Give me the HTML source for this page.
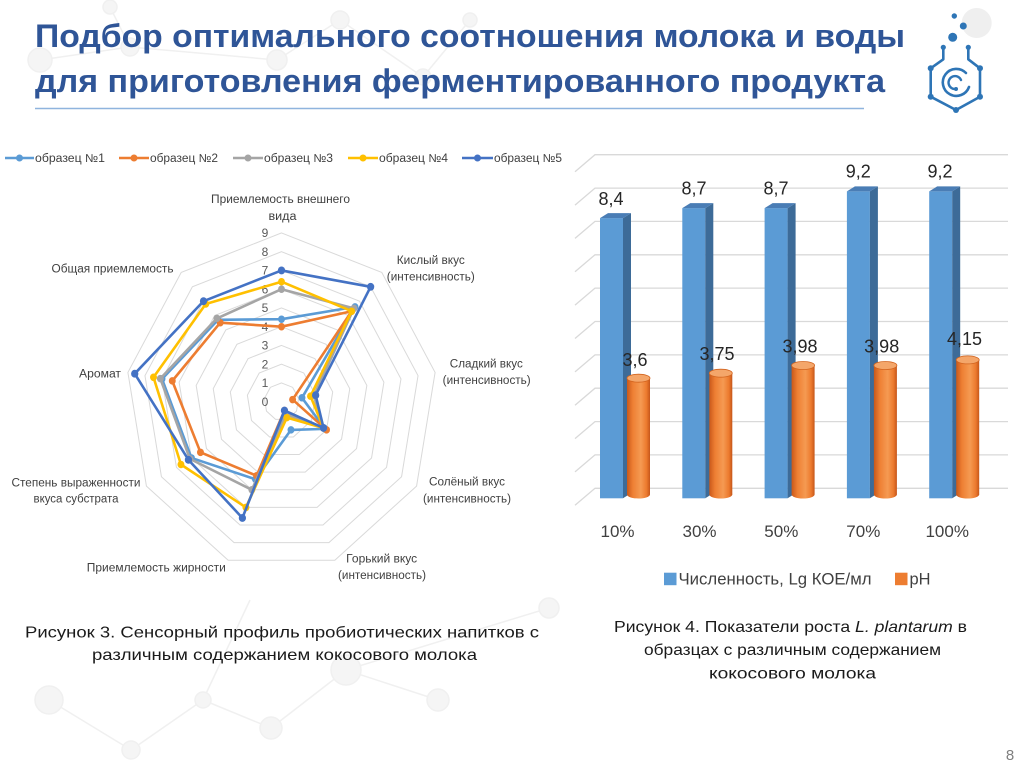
<!DOCTYPE html>
<html><head><meta charset="utf-8"><style>
html,body{margin:0;padding:0;background:#fff;}
svg{display:block;}
text{font-family:"Liberation Sans","DejaVu Sans",sans-serif;}
</style></head><body>
<svg width="1024" height="767" viewBox="0 0 1024 767" xmlns="http://www.w3.org/2000/svg">
<rect width="1024" height="767" fill="#fff"/>
<!-- faint background network -->
<g fill="#f5f5f5" stroke="#f0f0f0" stroke-width="1.5">
<line x1="40" y1="60" x2="130" y2="47"/><line x1="130" y1="47" x2="110" y2="7"/><line x1="130" y1="47" x2="277" y2="60"/><line x1="277" y1="60" x2="340" y2="20"/><line x1="340" y1="20" x2="423" y2="77"/><line x1="423" y1="77" x2="470" y2="20"/>
<line x1="49" y1="700" x2="131" y2="750"/><line x1="131" y1="750" x2="203" y2="700"/><line x1="203" y1="700" x2="271" y2="728"/><line x1="271" y1="728" x2="346" y2="670"/><line x1="346" y1="670" x2="438" y2="700"/><line x1="346" y1="670" x2="549" y2="608"/><line x1="203" y1="700" x2="250" y2="600"/>
<circle cx="40" cy="60" r="12"/><circle cx="130" cy="47" r="9"/><circle cx="110" cy="7" r="7"/><circle cx="277" cy="60" r="10"/><circle cx="340" cy="20" r="9"/><circle cx="423" cy="77" r="8"/><circle cx="470" cy="20" r="7"/>
<circle cx="49" cy="700" r="14"/><circle cx="203" cy="700" r="8"/><circle cx="271" cy="728" r="11"/><circle cx="346" cy="670" r="15"/><circle cx="438" cy="700" r="11"/><circle cx="131" cy="750" r="9"/><circle cx="549" cy="608" r="10"/>
<circle cx="976.7" cy="23" r="15" stroke="none" fill="#efefef"/>
</g>

<!-- Title -->
<text x="35" y="47" font-size="32" font-weight="bold" fill="#2F5597" textLength="870" lengthAdjust="spacingAndGlyphs">Подбор оптимального соотношения молока и воды</text>
<text x="35" y="92" font-size="32" font-weight="bold" fill="#2F5597" textLength="850" lengthAdjust="spacingAndGlyphs">для приготовления ферментированного продукта</text>
<line x1="35" y1="108.5" x2="864" y2="108.5" stroke="#8FB4DE" stroke-width="1.5"/>

<!-- Logo -->
<g fill="#2E75B6" stroke="#2E75B6">
<circle cx="954.3" cy="16" r="2.7" stroke="none"/><circle cx="963.3" cy="26" r="3.5" stroke="none"/><circle cx="952.7" cy="37.3" r="4.5" stroke="none"/>
<path d="M943.3,47.3 V59.3 L930.7,68.3 V96.7 L956,110 L980,96.7 V68.3 L968.3,59.3 V47.3" fill="none" stroke-width="2.6" stroke-linejoin="round"/>
<circle cx="943.3" cy="47.3" r="2.6" stroke="none"/><circle cx="968.3" cy="47.3" r="2.6" stroke="none"/>
<circle cx="930.7" cy="68.3" r="3" stroke="none"/><circle cx="930.7" cy="96.7" r="3" stroke="none"/><circle cx="956" cy="110" r="3" stroke="none"/><circle cx="980" cy="96.7" r="3" stroke="none"/><circle cx="980" cy="68.3" r="3" stroke="none"/>
<path d="M966,73 A13.5,13.5 0 1,0 969,87" fill="none" stroke-width="2.6" stroke-linecap="round"/>
<path d="M961,80 A6.5,6.5 0 1,0 956,89" fill="none" stroke-width="2.4" stroke-linecap="round"/>
<circle cx="956" cy="89" r="2" stroke="none"/>
</g>

<!-- Radar legend -->
<g stroke-width="2.6">
<line x1="5" y1="158" x2="34" y2="158" stroke="#5B9BD5"/><circle cx="19.5" cy="158" r="3.5" fill="#5B9BD5" stroke="none"/>
<line x1="119" y1="158" x2="149" y2="158" stroke="#ED7D31"/><circle cx="134" cy="158" r="3.5" fill="#ED7D31" stroke="none"/>
<line x1="233" y1="158" x2="263" y2="158" stroke="#A5A5A5"/><circle cx="248" cy="158" r="3.5" fill="#A5A5A5" stroke="none"/>
<line x1="348" y1="158" x2="378" y2="158" stroke="#FFC000"/><circle cx="363" cy="158" r="3.5" fill="#FFC000" stroke="none"/>
<line x1="462" y1="158" x2="493" y2="158" stroke="#4472C4"/><circle cx="477.5" cy="158" r="3.5" fill="#4472C4" stroke="none"/>
</g>
<g font-size="11.5" fill="#404040">
<text x="35" y="162" textLength="70" lengthAdjust="spacingAndGlyphs">образец №1</text>
<text x="150" y="162" textLength="68" lengthAdjust="spacingAndGlyphs">образец №2</text>
<text x="264" y="162" textLength="69" lengthAdjust="spacingAndGlyphs">образец №3</text>
<text x="379" y="162" textLength="69" lengthAdjust="spacingAndGlyphs">образец №4</text>
<text x="494" y="162" textLength="68" lengthAdjust="spacingAndGlyphs">образец №5</text>
</g>

<!-- Radar grid -->
<g fill="none" stroke="#D9D9D9" stroke-width="1">
<polygon vector-effect="non-scaling-stroke" transform="translate(281.5,401.7) scale(17.33,18.75)" points="0,-1 0.6428,-0.766 0.9848,-0.1736 0.866,0.5 0.342,0.9397 -0.342,0.9397 -0.866,0.5 -0.9848,-0.1736 -0.6428,-0.766"/>
<polygon vector-effect="non-scaling-stroke" transform="translate(281.5,401.7) scale(34.66,37.5)" points="0,-1 0.6428,-0.766 0.9848,-0.1736 0.866,0.5 0.342,0.9397 -0.342,0.9397 -0.866,0.5 -0.9848,-0.1736 -0.6428,-0.766"/>
<polygon vector-effect="non-scaling-stroke" transform="translate(281.5,401.7) scale(51.99,56.25)" points="0,-1 0.6428,-0.766 0.9848,-0.1736 0.866,0.5 0.342,0.9397 -0.342,0.9397 -0.866,0.5 -0.9848,-0.1736 -0.6428,-0.766"/>
<polygon vector-effect="non-scaling-stroke" transform="translate(281.5,401.7) scale(69.32,75)" points="0,-1 0.6428,-0.766 0.9848,-0.1736 0.866,0.5 0.342,0.9397 -0.342,0.9397 -0.866,0.5 -0.9848,-0.1736 -0.6428,-0.766"/>
<polygon vector-effect="non-scaling-stroke" transform="translate(281.5,401.7) scale(86.65,93.75)" points="0,-1 0.6428,-0.766 0.9848,-0.1736 0.866,0.5 0.342,0.9397 -0.342,0.9397 -0.866,0.5 -0.9848,-0.1736 -0.6428,-0.766"/>
<polygon vector-effect="non-scaling-stroke" transform="translate(281.5,401.7) scale(103.98,112.5)" points="0,-1 0.6428,-0.766 0.9848,-0.1736 0.866,0.5 0.342,0.9397 -0.342,0.9397 -0.866,0.5 -0.9848,-0.1736 -0.6428,-0.766"/>
<polygon vector-effect="non-scaling-stroke" transform="translate(281.5,401.7) scale(121.31,131.25)" points="0,-1 0.6428,-0.766 0.9848,-0.1736 0.866,0.5 0.342,0.9397 -0.342,0.9397 -0.866,0.5 -0.9848,-0.1736 -0.6428,-0.766"/>
<polygon vector-effect="non-scaling-stroke" transform="translate(281.5,401.7) scale(138.64,150)" points="0,-1 0.6428,-0.766 0.9848,-0.1736 0.866,0.5 0.342,0.9397 -0.342,0.9397 -0.866,0.5 -0.9848,-0.1736 -0.6428,-0.766"/>
<polygon vector-effect="non-scaling-stroke" transform="translate(281.5,401.7) scale(155.97,168.75)" points="0,-1 0.6428,-0.766 0.9848,-0.1736 0.866,0.5 0.342,0.9397 -0.342,0.9397 -0.866,0.5 -0.9848,-0.1736 -0.6428,-0.766"/>
</g>
<!-- Radar tick labels -->
<g font-size="12" fill="#595959" text-anchor="middle">
<text x="265" y="406">0</text><text x="265" y="387">1</text><text x="265" y="368.5">2</text><text x="265" y="349.7">3</text><text x="265" y="331">4</text><text x="265" y="312.2">5</text><text x="265" y="293.5">6</text><text x="265" y="274.7">7</text><text x="265" y="256">8</text><text x="265" y="237.2">9</text>
</g>
<!-- Radar axis labels -->
<g font-size="11.5" fill="#404040" text-anchor="middle">
<text x="280.5" y="203" textLength="139" lengthAdjust="spacingAndGlyphs">Приемлемость внешнего</text>
<text x="282.5" y="220" textLength="28" lengthAdjust="spacingAndGlyphs">вида</text>
<text x="430.8" y="264" textLength="68" lengthAdjust="spacingAndGlyphs">Кислый вкус</text>
<text x="430.8" y="280.7" textLength="88" lengthAdjust="spacingAndGlyphs">(интенсивность)</text>
<text x="486.3" y="367.3" textLength="73" lengthAdjust="spacingAndGlyphs">Сладкий вкус</text>
<text x="486.7" y="384" textLength="88" lengthAdjust="spacingAndGlyphs">(интенсивность)</text>
<text x="467" y="485.7" textLength="76" lengthAdjust="spacingAndGlyphs">Солёный вкус</text>
<text x="467" y="502.3" textLength="88" lengthAdjust="spacingAndGlyphs">(интенсивность)</text>
<text x="381.7" y="562.3" textLength="71" lengthAdjust="spacingAndGlyphs">Горький вкус</text>
<text x="382" y="579" textLength="88" lengthAdjust="spacingAndGlyphs">(интенсивность)</text>
<text x="156.3" y="571.3" textLength="139" lengthAdjust="spacingAndGlyphs">Приемлемость жирности</text>
<text x="76" y="486.3" textLength="129" lengthAdjust="spacingAndGlyphs">Степень выраженности</text>
<text x="76" y="502.3" textLength="85" lengthAdjust="spacingAndGlyphs">вкуса субстрата</text>
<text x="100" y="377.3" textLength="42" lengthAdjust="spacingAndGlyphs">Аромат</text>
<text x="112.5" y="272.3" textLength="122" lengthAdjust="spacingAndGlyphs">Общая приемлемость</text>
</g>

<!-- Radar series -->
<g transform="translate(281.5,401.7) scale(17.33,18.75)" stroke-linejoin="round">
<g stroke="#5B9BD5" fill="#5B9BD5">
<polygon fill="none" stroke-width="2.6" vector-effect="non-scaling-stroke" points="0,-4.4 4.242,-5.056 1.182,-0.208 2.511,1.45 0.547,1.504 -1.505,4.135 -5.196,3 -6.894,-1.215 -3.664,-4.366"/>
<g stroke="none"><circle cx="0" cy="-4.4" r="0.2"/><circle cx="4.242" cy="-5.056" r="0.2"/><circle cx="1.182" cy="-0.208" r="0.2"/><circle cx="2.511" cy="1.45" r="0.2"/><circle cx="0.547" cy="1.504" r="0.2"/><circle cx="-1.505" cy="4.135" r="0.2"/><circle cx="-5.196" cy="3" r="0.2"/><circle cx="-6.894" cy="-1.215" r="0.2"/><circle cx="-3.664" cy="-4.366" r="0.2"/></g>
</g>
<g stroke="#ED7D31" fill="#ED7D31">
<polygon fill="none" stroke-width="2.6" vector-effect="non-scaling-stroke" points="0,-4 4.05,-4.826 0.64,-0.113 2.598,1.5 0.171,0.47 -1.436,3.947 -4.676,2.7 -6.303,-1.111 -3.535,-4.213"/>
<g stroke="none"><circle cx="0" cy="-4" r="0.2"/><circle cx="4.05" cy="-4.826" r="0.2"/><circle cx="0.64" cy="-0.113" r="0.2"/><circle cx="2.598" cy="1.5" r="0.2"/><circle cx="0.171" cy="0.47" r="0.2"/><circle cx="-1.436" cy="3.947" r="0.2"/><circle cx="-4.676" cy="2.7" r="0.2"/><circle cx="-6.303" cy="-1.111" r="0.2"/><circle cx="-3.535" cy="-4.213" r="0.2"/></g>
</g>
<g stroke="#A5A5A5" fill="#A5A5A5">
<polygon fill="none" stroke-width="2.6" vector-effect="non-scaling-stroke" points="0,-6 4.178,-4.979 1.871,-0.33 2.425,1.4 0.239,0.658 -1.71,4.699 -5.283,3.05 -6.992,-1.233 -3.728,-4.443"/>
<g stroke="none"><circle cx="0" cy="-6" r="0.2"/><circle cx="4.178" cy="-4.979" r="0.2"/><circle cx="1.871" cy="-0.33" r="0.2"/><circle cx="2.425" cy="1.4" r="0.2"/><circle cx="0.239" cy="0.658" r="0.2"/><circle cx="-1.71" cy="4.699" r="0.2"/><circle cx="-5.283" cy="3.05" r="0.2"/><circle cx="-6.992" cy="-1.233" r="0.2"/><circle cx="-3.728" cy="-4.443" r="0.2"/></g>
</g>
<g stroke="#FFC000" fill="#FFC000">
<polygon fill="none" stroke-width="2.6" vector-effect="non-scaling-stroke" points="0,-6.4 4.05,-4.826 1.674,-0.295 2.425,1.4 0.308,0.846 -2.052,5.638 -5.802,3.35 -7.386,-1.302 -4.371,-5.209"/>
<g stroke="none"><circle cx="0" cy="-6.4" r="0.2"/><circle cx="4.05" cy="-4.826" r="0.2"/><circle cx="1.674" cy="-0.295" r="0.2"/><circle cx="2.425" cy="1.4" r="0.2"/><circle cx="0.308" cy="0.846" r="0.2"/><circle cx="-2.052" cy="5.638" r="0.2"/><circle cx="-5.802" cy="3.35" r="0.2"/><circle cx="-7.386" cy="-1.302" r="0.2"/><circle cx="-4.371" cy="-5.209" r="0.2"/></g>
</g>
<g stroke="#4472C4" fill="#4472C4">
<polygon fill="none" stroke-width="2.6" vector-effect="non-scaling-stroke" points="0,-7 5.142,-6.128 1.97,-0.347 2.425,1.4 0.171,0.47 -2.257,6.202 -5.369,3.1 -8.469,-1.493 -4.5,-5.362"/>
<g stroke="none"><circle cx="0" cy="-7" r="0.21"/><circle cx="5.142" cy="-6.128" r="0.21"/><circle cx="1.97" cy="-0.347" r="0.21"/><circle cx="2.425" cy="1.4" r="0.21"/><circle cx="0.171" cy="0.47" r="0.21"/><circle cx="-2.257" cy="6.202" r="0.21"/><circle cx="-5.369" cy="3.1" r="0.21"/><circle cx="-8.469" cy="-1.493" r="0.21"/><circle cx="-4.5" cy="-5.362" r="0.21"/></g>
</g>
</g>

<!-- Bar chart grid -->
<g stroke="#D9D9D9" stroke-width="1.3" fill="none">
<path d="M575,505.3 L595,488.3 H1008 M575,471.9 L595,454.9 H1008 M575,438.6 L595,421.6 H1008 M575,405.2 L595,388.2 H1008 M575,371.9 L595,354.9 H1008 M575,338.5 L595,321.5 H1008 M575,305.1 L595,288.1 H1008 M575,271.8 L595,254.8 H1008 M575,238.4 L595,221.4 H1008 M575,205.1 L595,188.1 H1008 M575,171.7 L595,154.7 H1008"/>
</g>
<defs>
<linearGradient id="cyl" x1="0" y1="0" x2="1" y2="0">
<stop offset="0" stop-color="#C9581A"/><stop offset="0.25" stop-color="#EE7F33"/><stop offset="0.6" stop-color="#F59A52"/><stop offset="0.85" stop-color="#EC7A2E"/><stop offset="1" stop-color="#C5561A"/>
</linearGradient>
</defs>
<!-- Blue bars -->
<g>
<g><rect x="600" y="218.1" width="23" height="280.2" fill="#5B9BD5"/><polygon points="623,218.1 631,213.1 631,493.3 623,498.3" fill="#3D6B98"/><polygon points="600,218.1 608,213.1 631,213.1 623,218.1" fill="#4A7DB5"/></g>
<g><rect x="682.3" y="208.1" width="23" height="290.2" fill="#5B9BD5"/><polygon points="705.3,208.1 713.3,203.1 713.3,493.3 705.3,498.3" fill="#3D6B98"/><polygon points="682.3,208.1 690.3,203.1 713.3,203.1 705.3,208.1" fill="#4A7DB5"/></g>
<g><rect x="764.6" y="208.1" width="23" height="290.2" fill="#5B9BD5"/><polygon points="787.6,208.1 795.6,203.1 795.6,493.3 787.6,498.3" fill="#3D6B98"/><polygon points="764.6,208.1 772.6,203.1 795.6,203.1 787.6,208.1" fill="#4A7DB5"/></g>
<g><rect x="846.9" y="191.4" width="23" height="306.9" fill="#5B9BD5"/><polygon points="869.9,191.4 877.9,186.4 877.9,493.3 869.9,498.3" fill="#3D6B98"/><polygon points="846.9,191.4 854.9,186.4 877.9,186.4 869.9,191.4" fill="#4A7DB5"/></g>
<g><rect x="929.2" y="191.4" width="23" height="306.9" fill="#5B9BD5"/><polygon points="952.2,191.4 960.2,186.4 960.2,493.3 952.2,498.3" fill="#3D6B98"/><polygon points="929.2,191.4 937.2,186.4 960.2,186.4 952.2,191.4" fill="#4A7DB5"/></g>
</g>
<!-- Orange cylinders -->
<g>
<g><rect x="627" y="378.2" width="23" height="116.3" fill="url(#cyl)"/><ellipse cx="638.5" cy="494.5" rx="11.5" ry="4" fill="url(#cyl)"/><ellipse cx="638.5" cy="378.2" rx="11.5" ry="4" fill="#F4A66A" stroke="#D2641F" stroke-width="0.8"/></g>
<g><rect x="709.3" y="373.2" width="23" height="121.3" fill="url(#cyl)"/><ellipse cx="720.8" cy="494.5" rx="11.5" ry="4" fill="url(#cyl)"/><ellipse cx="720.8" cy="373.2" rx="11.5" ry="4" fill="#F4A66A" stroke="#D2641F" stroke-width="0.8"/></g>
<g><rect x="791.6" y="365.5" width="23" height="129" fill="url(#cyl)"/><ellipse cx="803.1" cy="494.5" rx="11.5" ry="4" fill="url(#cyl)"/><ellipse cx="803.1" cy="365.5" rx="11.5" ry="4" fill="#F4A66A" stroke="#D2641F" stroke-width="0.8"/></g>
<g><rect x="873.9" y="365.5" width="23" height="129" fill="url(#cyl)"/><ellipse cx="885.4" cy="494.5" rx="11.5" ry="4" fill="url(#cyl)"/><ellipse cx="885.4" cy="365.5" rx="11.5" ry="4" fill="#F4A66A" stroke="#D2641F" stroke-width="0.8"/></g>
<g><rect x="956.2" y="359.9" width="23" height="134.6" fill="url(#cyl)"/><ellipse cx="967.7" cy="494.5" rx="11.5" ry="4" fill="url(#cyl)"/><ellipse cx="967.7" cy="359.9" rx="11.5" ry="4" fill="#F4A66A" stroke="#D2641F" stroke-width="0.8"/></g>
</g>
<!-- Bar labels -->
<g font-size="18" fill="#262626" text-anchor="middle">
<text x="611" y="205">8,4</text><text x="694" y="194.3">8,7</text><text x="776" y="194.3">8,7</text><text x="858.3" y="177.7">9,2</text><text x="940" y="177.7">9,2</text>
<text x="635" y="366">3,6</text><text x="717" y="360">3,75</text><text x="800" y="352.3">3,98</text><text x="881.7" y="352.3">3,98</text><text x="964.5" y="345">4,15</text>
</g>
<g font-size="17" fill="#404040" text-anchor="middle">
<text x="617.5" y="537">10%</text><text x="699.5" y="537">30%</text><text x="781.3" y="537">50%</text><text x="863.3" y="537">70%</text><text x="947.2" y="537">100%</text>
</g>
<!-- Bar legend -->
<rect x="664" y="572.7" width="12.5" height="12.5" fill="#5B9BD5"/>
<text x="678.5" y="584.5" font-size="17" fill="#404040" textLength="193" lengthAdjust="spacingAndGlyphs">Численность, Lg КОЕ/мл</text>
<rect x="895" y="572.7" width="12.5" height="12.5" fill="#ED7D31"/>
<text x="909.5" y="584.5" font-size="17" fill="#404040" textLength="21" lengthAdjust="spacingAndGlyphs">pH</text>

<!-- Captions -->
<g font-size="16" fill="#1a1a1a">
<text x="25" y="637.5" textLength="514" lengthAdjust="spacingAndGlyphs">Рисунок 3. Сенсорный профиль пробиотических напитков с</text>
<text x="92" y="660" textLength="385" lengthAdjust="spacingAndGlyphs">различным содержанием кокосового молока</text>
<text x="614" y="632" textLength="353" lengthAdjust="spacingAndGlyphs">Рисунок 4. Показатели роста <tspan font-style="italic">L. plantarum</tspan> в</text>
<text x="644" y="655" textLength="297" lengthAdjust="spacingAndGlyphs">образцах с различным содержанием</text>
<text x="709" y="678.5" textLength="167" lengthAdjust="spacingAndGlyphs">кокосового молока</text>
</g>
<text x="1010" y="760" font-size="15" fill="#7F7F7F" text-anchor="middle">8</text>
</svg>
</body></html>
